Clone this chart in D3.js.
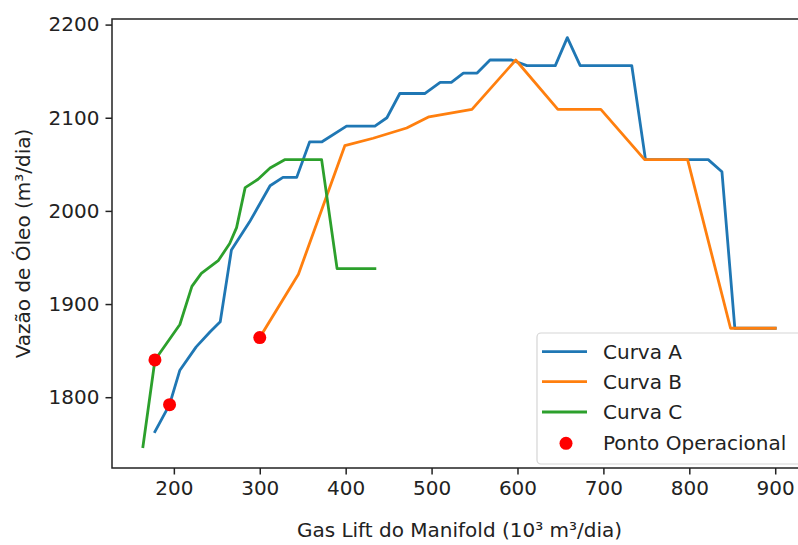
<!DOCTYPE html>
<html>
<head>
<meta charset="utf-8">
<script src="https://cdn.jsdelivr.net/npm/d3@7"></script>
<style>
  html, body { margin: 0; padding: 0; background: #fff; }
  svg { display: block; font-family: "DejaVu Sans", sans-serif; }
</style>
</head>
<body>
<svg id="chart" width="798" height="545"></svg>
<script>
// ---- data ----
const curveA_x = [178, 195, 207, 226, 242, 254, 267, 288, 312, 327, 343, 358, 372, 401, 434, 448, 463, 492, 510, 523, 537, 553, 568, 593, 611, 644, 658, 673, 733, 749, 822, 838, 853, 900];
const curveA_y = [1763, 1792, 1829, 1854, 1870, 1881, 1958, 1988, 2027, 2036, 2036, 2074, 2074, 2091, 2091, 2100, 2126, 2126, 2138, 2138, 2148, 2148, 2162, 2162, 2156, 2156, 2186, 2156, 2156, 2055, 2055, 2042, 1874, 1874];
const curveB_x = [300, 345, 399, 432, 471, 497, 547, 598, 647, 697, 748, 798, 848, 900];
const curveB_y = [1864, 1932, 2070, 2078, 2089, 2101, 2109, 2162, 2109, 2109, 2055, 2055, 1874, 1874];
const curveC_x = [164, 178, 207, 221, 232, 252, 265, 273, 283, 298, 312, 329, 372, 390, 434];
const curveC_y = [1747, 1840, 1878, 1919, 1933, 1947, 1965, 1982, 2025, 2034, 2046, 2055, 2055, 1938, 1938];
const opPoints_x = [178, 195, 300];
const opPoints_y = [1840, 1792, 1864];
const seriesNames = ["Curva A", "Curva B", "Curva C"];
const seriesColors = ["#1f77b4", "#ff7f0e", "#2ca02c"];
const pointName = "Ponto Operacional";
const xTicks = [200, 300, 400, 500, 600, 700, 800, 900];
const yTicks = [1800, 1900, 2000, 2100, 2200];
const xLabel = "Gas Lift do Manifold (10³ m³/dia)";
const yLabel = "Vazão de Óleo (m³/dia)";

// ---- layout ----
const svg = d3.select("#chart");
const L = 112, R = 807, T = 19, B = 468;
const x = d3.scaleLinear().domain([128, 937]).range([L, R]);
const y = d3.scaleLinear().domain([1724, 2206]).range([B, T]);

const series = [
  curveA_x.map((v, i) => [v, curveA_y[i]]),
  curveB_x.map((v, i) => [v, curveB_y[i]]),
  curveC_x.map((v, i) => [v, curveC_y[i]])
];

const line = d3.line().x(d => x(d[0])).y(d => y(d[1]));

const plot = svg.append("g");
series.forEach((s, i) => {
  plot.append("path")
    .attr("d", line(s))
    .attr("fill", "none")
    .attr("stroke", seriesColors[i])
    .attr("stroke-width", 2.8)
    .attr("stroke-linejoin", "round")
    .attr("stroke-linecap", "square");
});

plot.selectAll("circle.op")
  .data(opPoints_x.map((v, i) => [v, opPoints_y[i]]))
  .join("circle")
  .attr("class", "op")
  .attr("cx", d => x(d[0]))
  .attr("cy", d => y(d[1]))
  .attr("r", 6.5)
  .attr("fill", "#ff0000");

// ---- axes ----
const xAxis = d3.axisBottom(x).tickValues(xTicks).tickSize(6.5).tickPadding(6).tickFormat(d3.format("d"));
const yAxis = d3.axisLeft(y).tickValues(yTicks).tickSize(6.5).tickPadding(6).tickFormat(d3.format("d"));

const gx = svg.append("g").attr("transform", `translate(0,${B})`).call(xAxis);
const gy = svg.append("g").attr("transform", `translate(${L},0)`).call(yAxis);
[gx, gy].forEach(g => {
  g.select(".domain").remove();
  g.selectAll("line").attr("stroke", "#222").attr("stroke-width", 1.5);
  g.selectAll("text").attr("fill", "#222").style("font-size", "20px").style("font-family", "DejaVu Sans");
});

// spines
svg.append("rect")
  .attr("x", L).attr("y", T).attr("width", R - L).attr("height", B - T)
  .attr("fill", "none").attr("stroke", "#222").attr("stroke-width", 1.5);

// axis labels
svg.append("text")
  .attr("x", (L + R) / 2).attr("y", 530)
  .attr("text-anchor", "middle").attr("dominant-baseline", "central")
  .attr("fill", "#222").style("font-size", "20px")
  .text(xLabel);
svg.append("text")
  .attr("transform", `translate(23,${(T + B) / 2}) rotate(-90)`)
  .attr("text-anchor", "middle").attr("dominant-baseline", "central")
  .attr("fill", "#222").style("font-size", "20px")
  .text(yLabel);

// ---- legend ----
const lg = svg.append("g");
lg.append("rect")
  .attr("x", 537).attr("y", 333).attr("width", 268).attr("height", 131)
  .attr("rx", 4).attr("fill", "#fff").attr("fill-opacity", 0.85)
  .attr("stroke", "#d5d5d5").attr("stroke-width", 1.2);
const rowY = [351.7, 381.7, 412, 443.3];
seriesNames.forEach((n, i) => {
  lg.append("line")
    .attr("x1", 542).attr("x2", 587).attr("y1", rowY[i]).attr("y2", rowY[i])
    .attr("stroke", seriesColors[i]).attr("stroke-width", 2.8);
  lg.append("text")
    .attr("x", 603).attr("y", rowY[i]).attr("dominant-baseline", "central")
    .attr("fill", "#222").style("font-size", "20px").text(n);
});
lg.append("circle").attr("cx", 566).attr("cy", rowY[3]).attr("r", 6.5).attr("fill", "#ff0000");
lg.append("text")
  .attr("x", 603).attr("y", rowY[3]).attr("dominant-baseline", "central")
  .attr("fill", "#222").style("font-size", "20px").text(pointName);
</script>
</body>
</html>
